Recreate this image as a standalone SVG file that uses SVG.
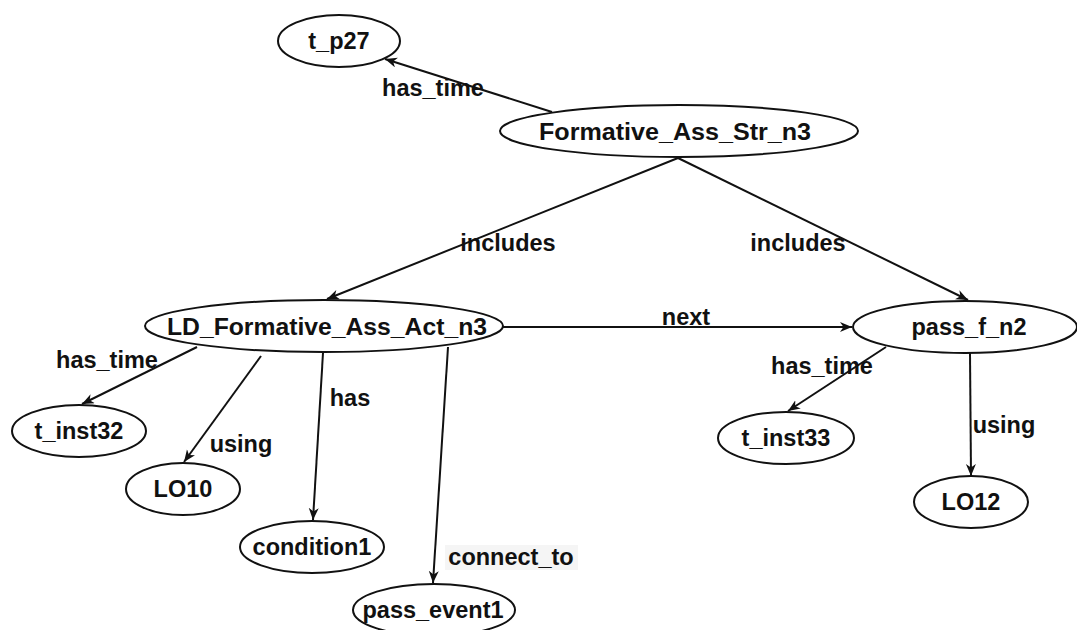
<svg xmlns="http://www.w3.org/2000/svg" width="1077" height="630" viewBox="0 0 1077 630">
  <style>
    .node ellipse { fill: #ffffff; stroke: #111111; stroke-width: 2; }
    .node text, .lbl { font-family: "Liberation Sans", Arial, sans-serif; font-weight: bold; font-size: 23.5px; fill: #111111; text-anchor: middle; }
    .edge { stroke: #111111; stroke-width: 2; fill: none; marker-end: url(#arrow); }
  </style>
  <defs>
    <marker id="arrow" markerUnits="userSpaceOnUse" markerWidth="14" markerHeight="12" refX="12" refY="5" orient="auto">
      <path d="M0,0 L12,5 L0,10 L3.5,5 z" fill="#111111"/>
    </marker>
  </defs>
  <rect width="1077" height="630" fill="#ffffff"/>

  <!-- connectors -->
  <g id="connectors">
    <line class="edge" x1="552" y1="112" x2="385" y2="59"/>
    <line class="edge" x1="678" y1="158" x2="327" y2="299"/>
    <line class="edge" x1="678" y1="158" x2="968" y2="300"/>
    <line class="edge" x1="502" y1="327" x2="852" y2="327"/>
    <line class="edge" x1="197" y1="347" x2="82" y2="404"/>
    <line class="edge" x1="261" y1="356" x2="184" y2="462"/>
    <line class="edge" x1="323" y1="353" x2="313" y2="520"/>
    <line class="edge" x1="448" y1="347" x2="433" y2="583"/>
    <line class="edge" x1="886" y1="347" x2="788" y2="411"/>
    <line class="edge" x1="970" y1="353" x2="971" y2="476"/>

    <text class="lbl" x="433" y="96">has_time</text>
    <text class="lbl" x="508" y="251">includes</text>
    <text class="lbl" x="798" y="251">includes</text>
    <text class="lbl" x="686" y="325">next</text>
    <text class="lbl" x="107" y="368">has_time</text>
    <text class="lbl" x="241" y="452">using</text>
    <text class="lbl" x="350" y="406">has</text>
    <rect x="445" y="545" width="133" height="25" fill="#f5f5f5"/>
    <text class="lbl" x="511" y="565">connect_to</text>
    <text class="lbl" x="822" y="374">has_time</text>
    <text class="lbl" x="1004" y="433">using</text>
  </g>

  <!-- nodes -->
  <g id="t_p27" class="node">
    <ellipse cx="339" cy="41" rx="61" ry="26"/>
    <text x="339" y="49">t_p27</text>
  </g>
  <g id="Formative_Ass_Str_n3" class="node">
    <ellipse cx="679" cy="131" rx="179" ry="26"/>
    <text x="675" y="140" textLength="272" lengthAdjust="spacingAndGlyphs">Formative_Ass_Str_n3</text>
  </g>
  <g id="LD_Formative_Ass_Act_n3" class="node">
    <ellipse cx="324" cy="326" rx="179" ry="26"/>
    <text x="327" y="335" textLength="320" lengthAdjust="spacingAndGlyphs">LD_Formative_Ass_Act_n3</text>
  </g>
  <g id="pass_f_n2" class="node">
    <ellipse cx="965" cy="327" rx="112" ry="26"/>
    <text x="969" y="335">pass_f_n2</text>
  </g>
  <g id="t_inst32" class="node">
    <ellipse cx="79" cy="431" rx="67" ry="26"/>
    <text x="79" y="439">t_inst32</text>
  </g>
  <g id="LO10" class="node">
    <ellipse cx="183" cy="489" rx="57" ry="26"/>
    <text x="183" y="497">LO10</text>
  </g>
  <g id="condition1" class="node">
    <ellipse cx="312" cy="547" rx="72" ry="26"/>
    <text x="312" y="555">condition1</text>
  </g>
  <g id="pass_event1" class="node">
    <ellipse cx="434" cy="610" rx="81" ry="26"/>
    <text x="433" y="618">pass_event1</text>
  </g>
  <g id="t_inst33" class="node">
    <ellipse cx="786" cy="438" rx="68" ry="26"/>
    <text x="786" y="446">t_inst33</text>
  </g>
  <g id="LO12" class="node">
    <ellipse cx="971" cy="502" rx="57" ry="26"/>
    <text x="971" y="510">LO12</text>
  </g>
</svg>
